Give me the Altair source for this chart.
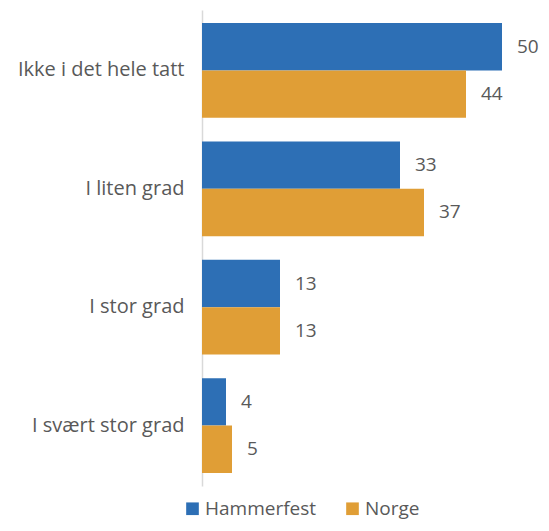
import altair as alt
import pandas as pd

categories = ["Ikke i det hele tatt", "I liten grad", "I stor grad", "I svært stor grad"]
hammerfest = [50, 33, 13, 4]
norge = [44, 37, 13, 5]
series = ["Hammerfest", "Norge"]
colors = ["#2D6FB5", "#E09E36"]

rows = []
for c, h, n in zip(categories, hammerfest, norge):
    rows.append({"kategori": c, "serie": "Hammerfest", "verdi": h})
    rows.append({"kategori": c, "serie": "Norge", "verdi": n})
df = pd.DataFrame(rows)

FONT = "Open Sans"
TXT = "#595959"

x = alt.X("verdi:Q", scale=alt.Scale(domain=[0, 50], nice=False), axis=None)
y = alt.Y("kategori:N", sort=categories,
          scale=alt.Scale(paddingInner=0.2, paddingOuter=0.11),
          axis=alt.Axis(title=None, ticks=False, domain=True, domainColor="#d9d9d9",
                        domainWidth=1.5, labelFont=FONT, labelFontSize=20,
                        labelColor=TXT, labelPadding=18, labelLimit=300))
yoff = alt.YOffset("serie:N", sort=series)

bars = alt.Chart(df).mark_bar().encode(
    x=x, y=y, yOffset=yoff,
    color=alt.Color("serie:N", sort=series,
                    scale=alt.Scale(domain=series, range=colors),
                    legend=alt.Legend(title=None, orient="none", direction="horizontal",
                                      legendX=-19, legendY=489,
                                      symbolType="square", symbolSize=160,
                                      symbolStrokeWidth=0,
                                      labelFont=FONT, labelFontSize=19, labelColor=TXT,
                                      labelOffset=3, columnPadding=26))
)

text = alt.Chart(df).mark_text(align="left", dx=15, font=FONT, fontSize=19,
                               color=TXT).encode(
    x=x, y=y, yOffset=yoff, text="verdi:Q"
)

chart = (bars + text).properties(
    width=300, height=476,
    autosize=alt.AutoSizeParams(type="none"),
    padding={"left": 194, "top": 2, "right": 39, "bottom": 37},
).configure_view(stroke=None)

chart.save("out.html", embed_options={"renderer": "svg", "actions": False})
